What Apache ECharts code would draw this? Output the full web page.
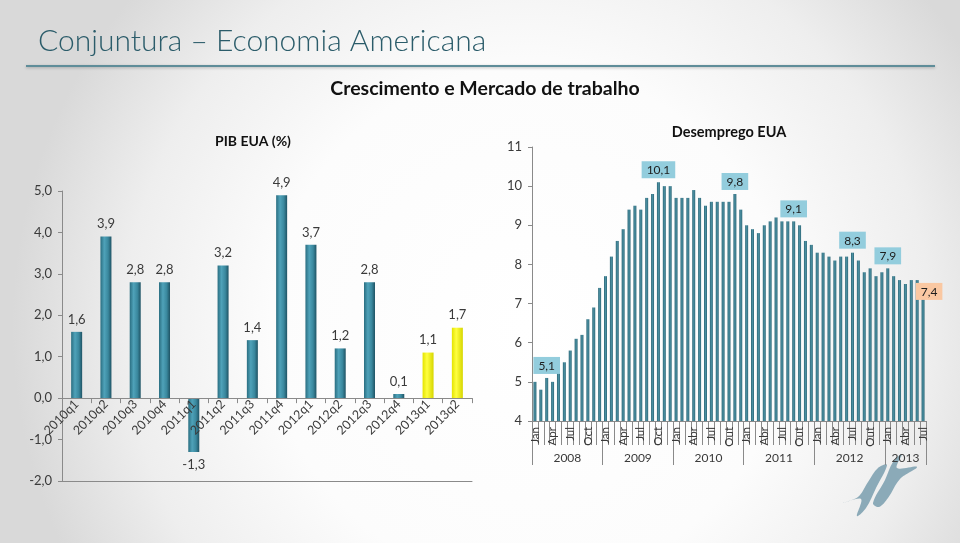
<!DOCTYPE html>
<html><head><meta charset="utf-8">
<script src="https://cdn.jsdelivr.net/npm/echarts@6/dist/echarts.min.js"></script>
<style>html,body{margin:0;padding:0;}#c{width:960px;height:543px;}</style>
</head><body><div id="c"></div>
<script>
// ---- GDP (PIB EUA %) ----
const gdpQuarters = ['2010q1','2010q2','2010q3','2010q4','2011q1','2011q2','2011q3','2011q4','2012q1','2012q2','2012q3','2012q4','2013q1','2013q2'];
const gdpValues = [1.6, 3.9, 2.8, 2.8, -1.3, 3.2, 1.4, 4.9, 3.7, 1.2, 2.8, 0.1, 1.1, 1.7];
const gdpHighlighted = ['2013q1','2013q2'];
const gdpMin = -2, gdpMax = 5;

// ---- Unemployment (Desemprego EUA) ----
const years = ['2008','2009','2010','2011','2012','2013'];
const monthsEN = ['Jan','Feb','Mar','Apr','May','Jun','Jul','Aug','Sep','Oct','Nov','Dec'];
const monthsPT = ['Jan','Fev','Mar','Abr','Mai','Jun','Jul','Ago','Set','Out','Nov','Dez'];
const u2008 = [5.0, 4.8, 5.1, 5.0, 5.4, 5.5, 5.8, 6.1, 6.2, 6.6, 6.9, 7.4];
const u2009 = [7.7, 8.2, 8.6, 8.9, 9.4, 9.5, 9.4, 9.7, 9.8, 10.1, 10.0, 10.0];
const u2010 = [9.7, 9.7, 9.7, 9.9, 9.7, 9.5, 9.6, 9.6, 9.6, 9.6, 9.8, 9.4];
const u2011 = [9.0, 8.9, 8.8, 9.0, 9.1, 9.2, 9.1, 9.1, 9.1, 9.0, 8.6, 8.5];
const u2012 = [8.3, 8.3, 8.2, 8.1, 8.2, 8.2, 8.3, 8.1, 7.8, 7.9, 7.7, 7.8];
const u2013 = [7.9, 7.7, 7.6, 7.5, 7.6, 7.6, 7.4];
const unempByYear = [u2008, u2009, u2010, u2011, u2012, u2013];
const unempLabelIdx = [2, 21, 34, 44, 54, 60];
const unempLastIdx = 66;

// build categories
const monthCats = [], yearCats = [], unemployment = [];
unempByYear.forEach((arr, yi) => {
  const names = yi < 2 ? monthsEN : monthsPT;
  arr.forEach((v, mi) => { monthCats.push(names[mi]); yearCats.push(years[yi]); unemployment.push(v); });
});
const yearStart = [], yearLabelIdx = {}, yearFull = {};
{
  let s = 0;
  unempByYear.forEach((arr, yi) => {
    yearStart.push(s);
    yearLabelIdx[s + Math.floor((arr.length - 1) / 2)] = true;
    yearFull[years[yi]] = arr.length % 2 === 0;
    s += arr.length;
  });
}

const FONT = 'Lato';
const fmt = v => v.toFixed(1).replace('.', ',');
const axisGray = '#8a8a8a';
const txt = '#3a3a3a';

function lin(stops) { return { type: 'linear', x: 0, y: 0, x2: 1, y2: 0, colorStops: stops }; }
const tealGrad = lin([{offset:0,color:'#2A6E81'},{offset:0.35,color:'#4FA2B9'},{offset:0.7,color:'#3A889E'},{offset:1,color:'#1F5364'}]);
const yellowGrad = lin([{offset:0,color:'#E3E300'},{offset:0.4,color:'#FFFF40'},{offset:1,color:'#D6D600'}]);
const thinGrad = lin([{offset:0,color:'#2C6676'},{offset:0.5,color:'#4B90A2'},{offset:1,color:'#2C6676'}]);

const gdpData = gdpValues.map((v, i) => ({
  value: v,
  itemStyle: { color: gdpHighlighted.includes(gdpQuarters[i]) ? yellowGrad : tealGrad },
  label: { position: v < 0 ? 'bottom' : 'top' }
}));

const unempData = unemployment.map((v, i) => {
  if (unempLabelIdx.includes(i)) {
    return { value: v, label: { show: true, position: 'top', distance: 4, backgroundColor: '#93CDDD',
      padding: [3,5,2,5], color: '#1e1e1e', fontSize: 12, fontFamily: FONT, formatter: p => fmt(p.value) } };
  }
  if (i === unempLastIdx) {
    return { value: v, label: { show: true, position: 'top', distance: 0, offset: [6, 12], backgroundColor: '#FAC8A2',
      padding: [3,5,2,5], color: '#1e1e1e', fontSize: 12, fontFamily: FONT, formatter: p => fmt(p.value) } };
  }
  return v;
});

const grid0H = 290;
const zeroOffset = -grid0H * (0 - gdpMin) / (gdpMax - gdpMin);

const chart = echarts.init(document.getElementById('c'), null, {renderer:'canvas'});
chart.setOption({
  animation: false,
  backgroundColor: { type: 'radial', x: 0.55, y: 0.6, r: 0.95, colorStops: [
    {offset:0,color:'#ffffff'},{offset:0.5,color:'#fcfcfc'},{offset:0.78,color:'#eeeeee'},{offset:1,color:'#d9d9d9'}] },
  title: [
    { text: 'Conjuntura – Economia Americana', left: 33, top: 21,
      textStyle: { fontFamily: FONT, fontWeight: 300, fontSize: 30, color: '#2B5C6A' } },
    { text: 'Crescimento e Mercado de trabalho', left: 480, textAlign: 'center', top: 74,
      textStyle: { fontFamily: FONT, fontWeight: 'bold', fontSize: 19.5, color: '#111' } },
    { text: 'PIB EUA (%)', left: 248, textAlign: 'center', top: 129,
      textStyle: { fontFamily: FONT, fontWeight: 'bold', fontSize: 14, color: '#111' } },
    { text: 'Desemprego EUA', left: 724, textAlign: 'center', top: 120,
      textStyle: { fontFamily: FONT, fontWeight: 'bold', fontSize: 14.5, color: '#111' } }
  ],
  graphic: [
    { type: 'line', shape: { x1: 26, y1: 66, x2: 935, y2: 66 },
      style: { stroke: '#5F8D99', lineWidth: 2, shadowColor: 'rgba(0,0,0,0.25)', shadowBlur: 3, shadowOffsetY: 1 } },
    { type: 'polygon', shape: { smooth: 0.35, points: [[843,503],[858,497],[868,482],[878,468],[887,465],[876,488],[866,508],[857,516],[861,499]] },
      style: { fill: '#7FA2B1', opacity: 0.9 } },
    { type: 'polygon', shape: { smooth: 0.35, points: [[873,503],[885,480],[893,462],[902,454],[897,468],[917,467],[900,479],[888,498],[879,507]] },
      style: { fill: '#7FA2B1', opacity: 0.9 } }
  ],
  grid: [
    { left: 62, top: 191, width: 410, height: grid0H, containLabel: false },
    { left: 532, top: 147, width: 394, height: 274, containLabel: false }
  ],
  xAxis: [
    { gridIndex: 0, type: 'category', data: gdpQuarters, position: 'bottom', offset: zeroOffset, z: 5,
      axisLine: { onZero: false, lineStyle: { color: axisGray, width: 1 } },
      axisTick: { show: true, length: 5, lineStyle: { color: axisGray } },
      axisLabel: { rotate: 45, margin: 4, fontSize: 12.5, fontFamily: FONT, color: txt, interval: 0 },
      splitLine: { show: false } },
    { gridIndex: 0, type: 'category', data: gdpQuarters, position: 'bottom',
      axisLine: { onZero: false, lineStyle: { color: axisGray } },
      axisTick: { show: false }, axisLabel: { show: false }, splitLine: { show: false } },
    { gridIndex: 1, type: 'category', data: monthCats, position: 'bottom',
      axisLine: { onZero: false, lineStyle: { color: axisGray } },
      axisTick: { show: true, interval: 0, length: 24, lineStyle: { color: axisGray } },
      axisLabel: { interval: 2, rotate: 90, margin: 6, fontSize: 11.5, fontFamily: FONT, color: txt },
      splitLine: { show: false } },
    { gridIndex: 1, type: 'category', data: yearCats, position: 'bottom',
      axisLine: { show: false, onZero: false },
      axisTick: { show: true, length: 44, interval: (i) => yearStart.includes(i), lineStyle: { color: axisGray } },
      axisLabel: { interval: (i) => !!yearLabelIdx[i], margin: 31, fontSize: 12, fontFamily: FONT, color: txt,
        formatter: v => yearFull[v] ? '{f|' + v + '}' : '{p|' + v + '}',
        rich: { f: { padding: [0,0,0,6], fontSize: 12, fontFamily: FONT, color: txt }, p: { fontSize: 12, fontFamily: FONT, color: txt } } },
      splitLine: { show: false } }
  ],
  yAxis: [
    { gridIndex: 0, type: 'value', min: gdpMin, max: gdpMax, interval: 1,
      axisLine: { show: true, lineStyle: { color: axisGray } },
      axisTick: { show: true, length: 4, lineStyle: { color: axisGray } },
      axisLabel: { formatter: v => fmt(v), fontSize: 13, fontFamily: FONT, color: txt, margin: 10 },
      splitLine: { show: false } },
    { gridIndex: 1, type: 'value', min: 4, max: 11, interval: 1,
      axisLine: { show: true, lineStyle: { color: axisGray } },
      axisTick: { show: true, length: 4, lineStyle: { color: axisGray } },
      axisLabel: { fontSize: 13, fontFamily: FONT, color: txt, margin: 10 },
      splitLine: { show: false } }
  ],
  series: [
    { type: 'bar', xAxisIndex: 0, yAxisIndex: 0, data: gdpData, barWidth: 11,
      label: { show: true, distance: 6, fontSize: 13, fontFamily: FONT, color: txt, formatter: p => fmt(p.value) } },
    { type: 'bar', xAxisIndex: 2, yAxisIndex: 1, data: unempData, barWidth: 3,
      itemStyle: { color: thinGrad }, label: { show: false } }
  ]
});
</script></body></html>
